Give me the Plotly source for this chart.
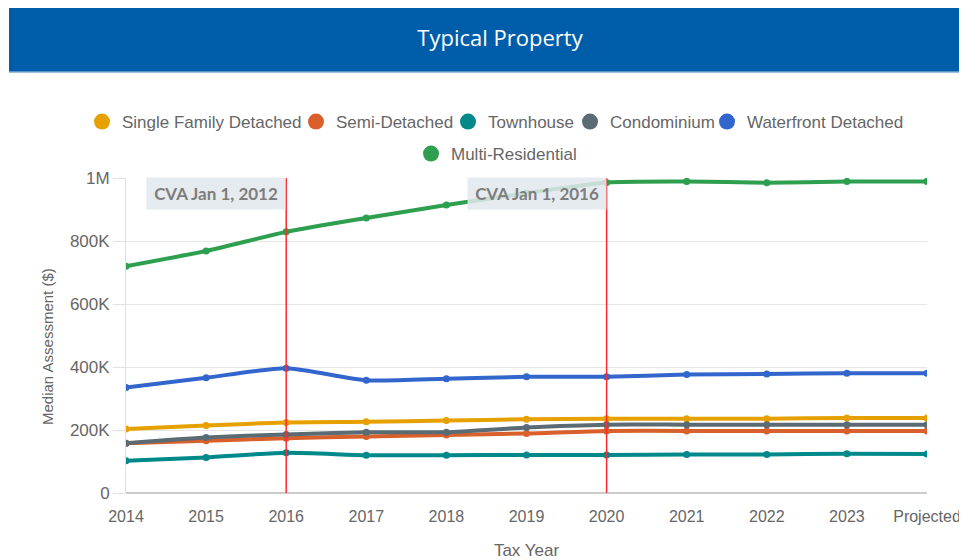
import plotly.graph_objects as go

years = ["2014", "2015", "2016", "2017", "2018", "2019", "2020", "2021", "2022", "2023", "Projected"]

single_family = [203000, 214000, 224000, 226000, 230000, 234000, 236000, 236000, 236000, 238000, 238000]
semi_detached = [158000, 166000, 174000, 179000, 184000, 189000, 197000, 197000, 197000, 197000, 197000]
townhouse = [102000, 113000, 128000, 120000, 120000, 121000, 121000, 122000, 122000, 125000, 124000]
condominium = [158000, 176000, 186000, 193000, 193000, 208000, 217000, 217000, 217000, 217000, 217000]
waterfront = [335000, 366000, 396000, 358000, 363000, 369000, 369000, 376000, 378000, 380000, 380000]
multi_res = [720000, 768000, 829000, 873000, 914000, 952000, 986000, 989000, 985000, 989000, 989000]

y_tickvals = [0, 200000, 400000, 600000, 800000, 1000000]
y_ticktext = ["0", "200K", "400K", "600K", "800K", "1M"]

cva_years = ["2016", "2020"]
cva_labels = ["CVA Jan 1, 2012", "CVA Jan 1, 2016"]

names = ["Single Family Detached", "Semi-Detached", "Townhouse", "Condominium",
         "Waterfront Detached", "Multi-Residential"]
values = [single_family, semi_detached, townhouse, condominium, waterfront, multi_res]
colors = ["#E6A100", "#D95F2B", "#00898A", "#5B6B73", "#3366CC", "#2E9E4F"]

# Page is offset by the browser's 8px body margin; work in figure coords.
W, H = 959, 552
L, R, T, B = 118, 40, 170, 67
PW, PH = W - L - R, H - T - B  # 801 x 315
OFF = 8

def px_x(px):
    return (px - L) / PW

def px_y(py):
    return (H - B - py) / PH

# legend entry layout (page pixels of circle centres, row y)
legend_pos = [(101, 122), (315, 122), (467, 122), (589, 122), (726, 122), (430, 154)]

TXT = "Liberation Sans, Arial, sans-serif"
legend_font = dict(family=TXT, size=17, color="#666666")

fig = go.Figure()
for name, vals, color in zip(names, values, colors):
    fig.add_trace(go.Scatter(
        x=years, y=vals, name=name, mode="lines+markers",
        line=dict(color=color, width=4, shape="spline", smoothing=0.6),
        marker=dict(color=color, size=7),
        showlegend=False,
    ))

legend_layouts = {}
for i, (name, color) in enumerate(zip(names, colors)):
    key = "legend" if i == 0 else "legend%d" % (i + 1)
    fig.add_trace(go.Scatter(
        x=[None], y=[None], name=name, mode="markers",
        marker=dict(color=color, size=16),
        legend=key, showlegend=True,
    ))
    cx, cy = legend_pos[i]
    legend_layouts[key] = dict(
        orientation="h", xanchor="left", yanchor="middle",
        x=px_x(cx - OFF - 19), y=px_y(cy - OFF),
        font=legend_font, itemwidth=30, bgcolor="rgba(0,0,0,0)",
    )

# CVA vertical lines and labels
for yr, lab in zip(cva_years, cva_labels):
    idx = years.index(yr)
    fig.add_shape(type="line", xref="x", yref="paper", x0=idx, x1=idx, y0=0, y1=1,
                  line=dict(color="#FF2A2A", width=1.5), layer="above")
    fig.add_annotation(x=idx, y=1, xref="x", yref="paper", xanchor="right", yanchor="top",
                       xshift=0, yshift=1,
                       text="<b>\u2009" + lab + "\u2009</b>", showarrow=False,
                       font=dict(family="Lato, Noto Sans, sans-serif", size=17, color="#7d7d7d"),
                       bgcolor="rgba(226,231,236,0.85)", borderpad=5)

# Y axis title placed as rotated text
fig.add_annotation(x=px_x(47 - OFF), y=px_y(347 - OFF), xref="paper", yref="paper",
                   text="Median Assessment ($)", textangle=-90, showarrow=False,
                   xanchor="center", yanchor="middle",
                   font=dict(family=TXT, size=15, color="#666666"))

# Title bar
fig.add_shape(type="rect", xref="paper", yref="paper",
              x0=px_x(1), x1=px_x(W + 5),
              y0=px_y(64), y1=px_y(-5),
              fillcolor="#005DA9", line=dict(width=0), layer="below")
fig.add_shape(type="line", xref="paper", yref="paper",
              x0=px_x(1), x1=px_x(W + 5),
              y0=px_y(64), y1=px_y(64),
              line=dict(color="#7FA8D0", width=1.5))

fig.update_layout(
    width=W, height=H,
    margin=dict(l=L, r=R, t=T, b=B, autoexpand=False),
    paper_bgcolor="white", plot_bgcolor="white",
    title=dict(text="Typical Property", x=(500 - OFF) / W, xanchor="center",
               y=1 - 30 / H, yanchor="middle",
               font=dict(family="Open Sans, sans-serif", size=22, color="white")),
    xaxis=dict(type="category", range=[0, 10], showgrid=False, zeroline=False,
               showline=False, ticks="outside", ticklen=9, tickcolor="rgba(0,0,0,0)",
               tickfont=dict(family=TXT, size=16, color="#666666"),
               title=dict(text="Tax Year", font=dict(family=TXT, size=17, color="#666666"),
                          standoff=24)),
    yaxis=dict(range=[0, 1000000], tickvals=y_tickvals, ticktext=y_ticktext,
               showgrid=True, gridcolor="#E6E6E6", gridwidth=1,
               zeroline=True, zerolinecolor="#CCCCCC", zerolinewidth=1.5,
               showline=True, linecolor="#E0E0E0", linewidth=1,
               ticks="outside", ticklen=12, tickcolor="#E0E0E0",
               tickfont=dict(family=TXT, size=17, color="#666666")),
    font=dict(family=TXT),
    **legend_layouts,
)

fig.write_html("out.html")
